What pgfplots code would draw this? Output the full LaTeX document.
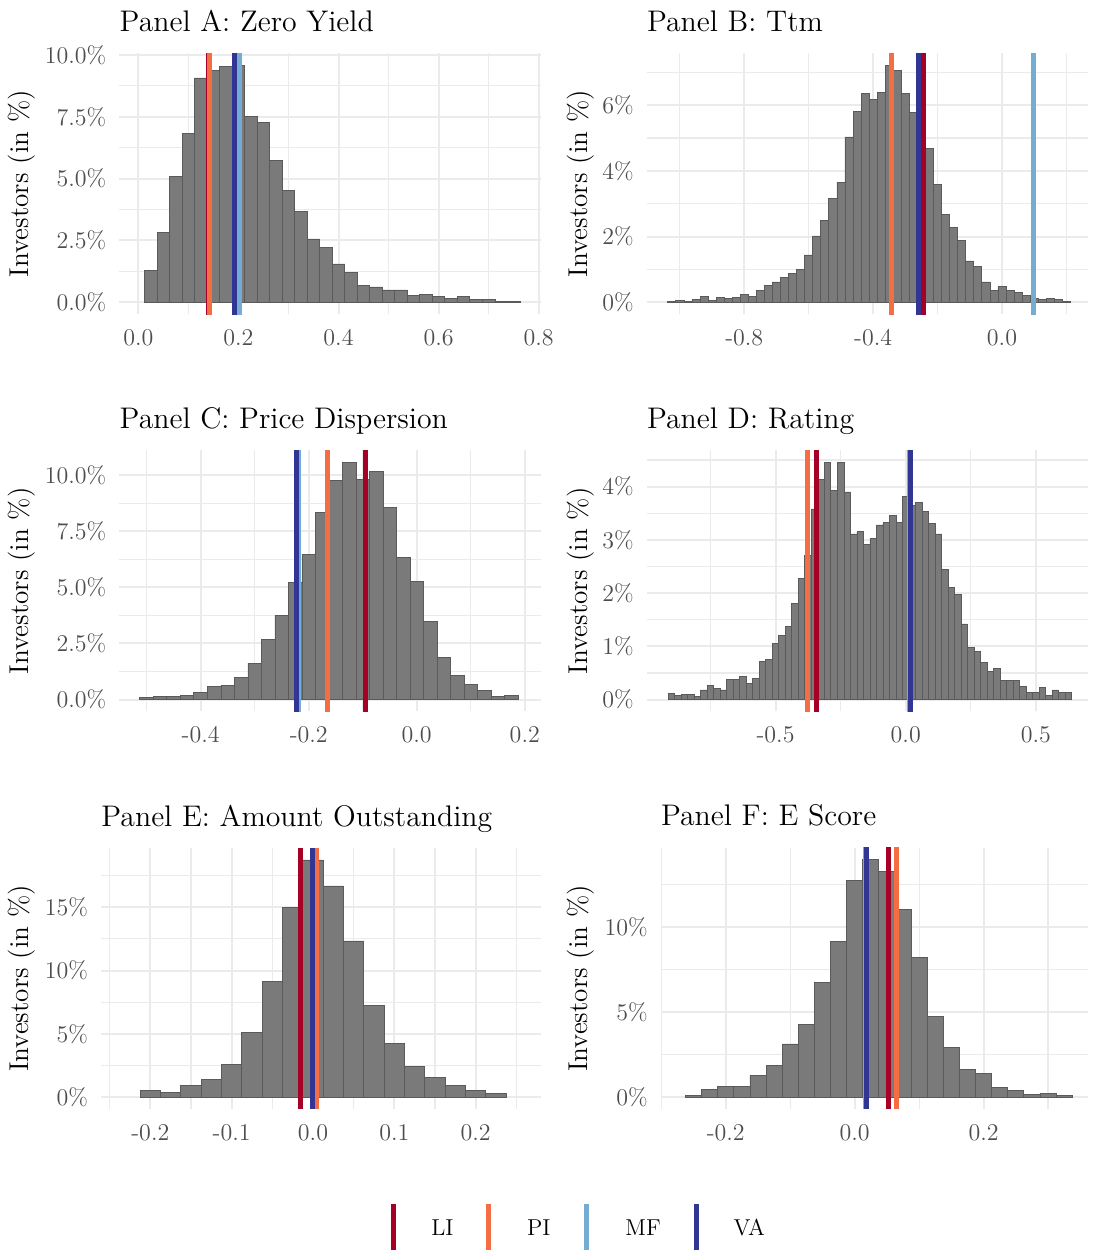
\documentclass[border=0pt]{standalone}
\usepackage{fontspec}
\usepackage{pgfplots}
\pgfplotsset{compat=1.18}
\definecolor{LIc}{HTML}{A50026}
\definecolor{PIc}{HTML}{F46D43}
\definecolor{MFc}{HTML}{74ADD1}
\definecolor{VAc}{HTML}{313695}
\definecolor{barc}{HTML}{7A7A7A}
\definecolor{bare}{HTML}{5A5A5A}
\definecolor{gridc}{HTML}{EBEBEB}
\definecolor{tickc}{HTML}{4D4D4D}
\pgfplotsset{
 panel/.style={
   scale only axis, anchor=south west, height=130.5pt,
   axis line style={draw=none},
   major tick length=0pt, minor tick length=0pt,
   xmajorgrids, ymajorgrids, xminorgrids, yminorgrids,
   major grid style={draw=gridc, line width=1pt},
   minor grid style={draw=gridc, line width=0.6pt},
   tick label style={font=\fontsize{12}{14}\selectfont, text=tickc},
   xticklabel style={yshift=-4pt},
   yticklabel style={xshift=-3pt},
   every axis title shift=0pt,
   title style={at={(0,1)}, anchor=base west, yshift=11pt, inner sep=0pt, font=\fontsize{14.9}{17}\selectfont},
 },
 bars/.style={ybar, bar width=0.025, bar shift=0pt, fill=barc, draw=bare, line width=0.4pt},
 vl/.style={line width=2.5pt, draw=#1},
}
\newcommand{\ylab}[2]{\node[rotate=90, font=\fontsize{13.6}{15}\selectfont] at (#1,#2) {Investors (in \%)};}
\begin{document}
\begin{tikzpicture}
\useasboundingbox (0,0) rectangle (547.5pt,625pt);
% Panel A
\begin{axis}[panel, at={(59.65pt,467.9pt)}, width=210.7pt,
  title={Panel A: Zero Yield},
  xmin=-0.038, xmax=0.804, ymin=-0.48, ymax=10.07,
  xtick={0,0.2,0.4,0.6,0.8}, xticklabels={0.0,0.2,0.4,0.6,0.8}, minor xtick={0.1,0.3,0.5,0.7},
  ytick={0,2.5,5,7.5,10}, yticklabels={0.0\%,2.5\%,5.0\%,7.5\%,10.0\%}, minor ytick={1.25,3.75,6.25,8.75}]
\addplot[bars] coordinates {
(0.025,1.27)(0.05,2.82)(0.075,5.08)(0.1,6.81)(0.125,9.07)(0.15,9.37)(0.175,9.53)(0.2,9.59)
(0.225,7.53)(0.25,7.26)(0.275,5.75)(0.3,4.54)(0.325,3.69)(0.35,2.56)(0.375,2.20)(0.4,1.55)
(0.425,1.19)(0.45,0.70)(0.475,0.62)(0.5,0.50)(0.525,0.50)(0.55,0.26)(0.575,0.30)(0.6,0.22)
(0.625,0.15)(0.65,0.22)(0.675,0.11)(0.7,0.13)(0.725,0.05)(0.75,0.05)};
\addplot[vl=LIc] coordinates {(0.1405,-5)(0.1405,30)};
\addplot[vl=PIc] coordinates {(0.142,-5)(0.142,30)};
\addplot[vl=MFc] coordinates {(0.202,-5)(0.202,30)};
\addplot[vl=VAc] coordinates {(0.193,-5)(0.193,30)};
\end{axis}
% Panel B
\begin{axis}[panel, at={(323.35pt,467.9pt)}, width=220.65pt,
  title={Panel B: Ttm},
  xmin=-1.103, xmax=0.267, ymin=-0.361, ymax=7.58,
  xtick={-0.8,-0.4,0}, xticklabels={-0.8,-0.4,0.0}, minor xtick={-1,-0.6,-0.2,0.2},
  ytick={0,2,4,6}, yticklabels={0\%,2\%,4\%,6\%}, minor ytick={1,3,5,7}]
\addplot[bars] coordinates {
(-1.025,0.02)(-1.0,0.07)(-0.975,0.03)(-0.95,0.10)(-0.925,0.19)(-0.9,0.07)(-0.875,0.16)(-0.85,0.13)(-0.825,0.16)(-0.8,0.25)
(-0.775,0.19)(-0.75,0.37)(-0.725,0.50)(-0.7,0.62)(-0.675,0.77)(-0.65,0.89)(-0.625,1.01)(-0.6,1.44)(-0.575,2.02)(-0.55,2.50)
(-0.525,3.17)(-0.5,3.66)(-0.475,5.03)(-0.45,5.82)(-0.425,6.36)(-0.4,6.18)(-0.375,6.39)(-0.35,7.21)(-0.325,7.06)(-0.3,6.36)
(-0.275,5.79)(-0.25,5.33)(-0.225,4.69)(-0.2,3.60)(-0.175,2.68)(-0.15,2.29)(-0.125,1.87)(-0.1,1.26)(-0.075,1.10)(-0.05,0.62)
(-0.025,0.37)(0.0,0.47)(0.025,0.37)(0.05,0.31)(0.075,0.22)(0.1,0.13)(0.125,0.10)(0.15,0.13)(0.175,0.10)(0.2,0.04)};
\addplot[vl=LIc] coordinates {(-0.243,-5)(-0.243,30)};
\addplot[vl=PIc] coordinates {(-0.343,-5)(-0.343,30)};
\addplot[vl=MFc] coordinates {(0.099,-5)(0.099,30)};
\addplot[vl=VAc] coordinates {(-0.259,-5)(-0.259,30)};
\end{axis}
% Panel C
\begin{axis}[panel, at={(59.65pt,269.3pt)}, width=210.7pt,
  title={Panel C: Price Dispersion},
  xmin=-0.5506, xmax=0.2295, ymin=-0.529, ymax=11.11,
  xtick={-0.4,-0.2,0,0.2}, xticklabels={-0.4,-0.2,0.0,0.2}, minor xtick={-0.5,-0.3,-0.1,0.1},
  ytick={0,2.5,5,7.5,10}, yticklabels={0.0\%,2.5\%,5.0\%,7.5\%,10.0\%}, minor ytick={1.25,3.75,6.25,8.75}]
\addplot[bars] coordinates {
(-0.5,0.10)(-0.475,0.15)(-0.45,0.15)(-0.425,0.19)(-0.4,0.33)(-0.375,0.59)(-0.35,0.64)(-0.325,1.00)
(-0.3,1.62)(-0.275,2.69)(-0.25,3.76)(-0.225,5.23)(-0.2,6.48)(-0.175,8.35)(-0.15,9.78)(-0.125,10.58)
(-0.1,9.82)(-0.075,10.18)(-0.05,8.57)(-0.025,6.34)(0.0,5.27)(0.025,3.49)(0.05,1.89)(0.075,1.08)
(0.1,0.68)(0.125,0.42)(0.15,0.15)(0.175,0.19)};
\addplot[vl=LIc] coordinates {(-0.094,-5)(-0.094,30)};
\addplot[vl=PIc] coordinates {(-0.166,-5)(-0.166,30)};
\addplot[vl=MFc] coordinates {(-0.218,-5)(-0.218,30)};
\addplot[vl=VAc] coordinates {(-0.222,-5)(-0.222,30)};
\end{axis}
% Panel D
\begin{axis}[panel, at={(323.35pt,269.3pt)}, width=220.65pt,
  title={Panel D: Rating},
  xmin=-0.995, xmax=0.700, ymin=-0.223, ymax=4.68,
  xtick={-0.5,0,0.5}, xticklabels={-0.5,0.0,0.5}, minor xtick={-0.75,-0.25,0.25},
  ytick={0,1,2,3,4}, yticklabels={0\%,1\%,2\%,3\%,4\%}, minor ytick={0.5,1.5,2.5,3.5,4.5}]
\addplot[bars] coordinates {
(-0.9,0.11)(-0.875,0.07)(-0.85,0.09)(-0.825,0.09)(-0.8,0.05)(-0.775,0.18)(-0.75,0.26)(-0.725,0.20)(-0.7,0.18)(-0.675,0.37)
(-0.65,0.37)(-0.625,0.43)(-0.6,0.31)(-0.575,0.39)(-0.55,0.71)(-0.525,0.75)(-0.5,1.05)(-0.475,1.21)(-0.45,1.38)(-0.425,1.80)
(-0.4,2.27)(-0.375,2.70)(-0.35,3.58)(-0.325,4.13)(-0.3,4.46)(-0.275,3.92)(-0.25,4.46)(-0.225,3.90)(-0.2,3.11)(-0.175,3.15)
(-0.15,2.92)(-0.125,3.02)(-0.1,3.28)(-0.075,3.32)(-0.05,3.45)(-0.025,3.32)(0.0,3.81)(0.025,3.64)(0.05,3.71)(0.075,3.53)
(0.1,3.30)(0.125,3.11)(0.15,2.45)(0.175,2.10)(0.2,1.98)(0.225,1.42)(0.25,0.97)(0.275,0.91)(0.3,0.69)(0.325,0.52)
(0.35,0.58)(0.375,0.35)(0.4,0.35)(0.425,0.35)(0.45,0.24)(0.475,0.14)(0.5,0.13)(0.525,0.22)(0.55,0.07)(0.575,0.18)
(0.6,0.13)(0.625,0.14)};
\addplot[vl=LIc] coordinates {(-0.341,-5)(-0.341,30)};
\addplot[vl=PIc] coordinates {(-0.378,-5)(-0.378,30)};
\addplot[vl=MFc] coordinates {(0.013,-5)(0.013,30)};
\addplot[vl=VAc] coordinates {(0.019,-5)(0.019,30)};
\end{axis}
% Panel E
\begin{axis}[panel, at={(50.5pt,70.5pt)}, width=220pt,
  title={Panel E: Amount Outstanding},
  xmin=-0.2607, xmax=0.2804, ymin=-0.937, ymax=19.68,
  xtick={-0.2,-0.1,0,0.1,0.2}, xticklabels={-0.2,-0.1,0.0,0.1,0.2}, minor xtick={-0.25,-0.15,-0.05,0.05,0.15,0.25},
  ytick={0,5,10,15}, yticklabels={0\%,5\%,10\%,15\%}, minor ytick={2.5,7.5,12.5,17.5}]
\addplot[bars] coordinates {
(-0.2,0.50)(-0.175,0.34)(-0.15,0.89)(-0.125,1.37)(-0.1,2.55)(-0.075,5.11)(-0.05,9.11)(-0.025,14.95)(0.0,18.74)
(0.025,16.68)(0.05,12.34)(0.075,7.21)(0.1,4.21)(0.125,2.39)(0.15,1.53)(0.175,0.89)(0.2,0.50)(0.225,0.26)};
\addplot[vl=LIc] coordinates {(-0.015,-5)(-0.015,30)};
\addplot[vl=PIc] coordinates {(0.0045,-5)(0.0045,30)};
\addplot[vl=MFc] coordinates {(0.0,-5)(0.0,30)};
\addplot[vl=VAc] coordinates {(-0.0005,-5)(-0.0005,30)};
\end{axis}
% Panel F
\begin{axis}[panel, at={(330.35pt,70.5pt)}, width=213.65pt,
  title={Panel F: E Score},
  xmin=-0.301, xmax=0.362, ymin=-0.697, ymax=14.63,
  xtick={-0.2,0,0.2}, xticklabels={-0.2,0.0,0.2}, minor xtick={-0.3,-0.1,0.1,0.3},
  ytick={0,5,10}, yticklabels={0\%,5\%,10\%}, minor ytick={2.5,7.5,12.5}]
\addplot[bars] coordinates {
(-0.25,0.12)(-0.225,0.47)(-0.2,0.65)(-0.175,0.65)(-0.15,1.29)(-0.125,1.88)(-0.1,3.12)(-0.075,4.29)
(-0.05,6.71)(-0.025,9.12)(0.0,12.71)(0.025,13.94)(0.05,13.24)(0.075,11.0)(0.1,8.18)(0.125,4.76)
(0.15,2.94)(0.175,1.65)(0.2,1.41)(0.225,0.59)(0.25,0.41)(0.275,0.18)(0.3,0.24)(0.325,0.12)};
\addplot[vl=LIc] coordinates {(0.052,-5)(0.052,30)};
\addplot[vl=PIc] coordinates {(0.065,-5)(0.065,30)};
\addplot[vl=MFc] coordinates {(0.017,-5)(0.017,30)};
\addplot[vl=VAc] coordinates {(0.019,-5)(0.019,30)};
\end{axis}
% y labels
\ylab{11pt}{533.15pt}
\ylab{290.5pt}{533.15pt}
\ylab{11pt}{334.55pt}
\ylab{290.5pt}{334.55pt}
\ylab{11pt}{135.75pt}
\ylab{290.5pt}{135.75pt}
% legend
\begin{scope}[every node/.style={anchor=base west, inner sep=0pt, font=\fontsize{11.5}{13}\selectfont}]
\draw[LIc, line width=2.5pt] (196.65pt,0pt) -- (196.65pt,23pt);
\node at (215.5pt,7pt) {LI};
\draw[PIc, line width=2.5pt] (244.15pt,0pt) -- (244.15pt,23pt);
\node at (263.35pt,7pt) {PI};
\draw[MFc, line width=2.5pt] (293.35pt,0pt) -- (293.35pt,23pt);
\node at (312.5pt,7pt) {MF};
\draw[VAc, line width=2.5pt] (348.35pt,0pt) -- (348.35pt,23pt);
\node at (366.65pt,7pt) {VA};
\end{scope}
\end{tikzpicture}
\end{document}
